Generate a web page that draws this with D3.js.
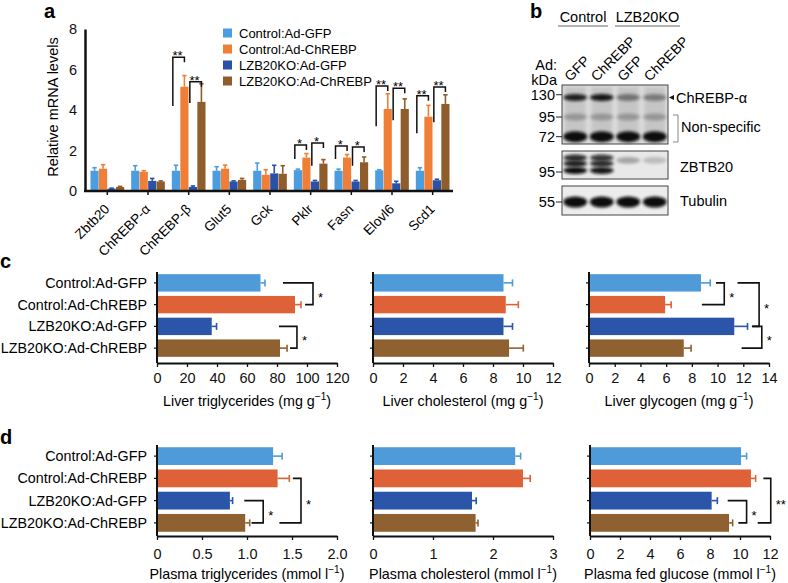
<!DOCTYPE html>
<html>
<head>
<meta charset="UTF-8">
<style>
  body { margin: 0; background: #fff; }
  svg { display: block; font-family: "Liberation Sans", Arial, Helvetica, sans-serif; }
</style>
</head>
<body>
<script src="https://d3js.org/d3.v7.min.js"></script>
<script>
// ---- data ----
const groups = ["Control:Ad-GFP", "Control:Ad-ChREBP", "LZB20KO:Ad-GFP", "LZB20KO:Ad-ChREBP"];
const colorsA = ["#4b9de0", "#ef7f36", "#2a51a6", "#8e5d2b"];
const colorsCD = ["#4f9ad8", "#df6137", "#2b55a8", "#8f6131"];

const genes = ["Zbtb20", "ChREBP-α", "ChREBP-β", "Glut5", "Gck", "Pklr", "Fasn", "Elovl6", "Scd1"];
const mrnaMean = [
  [1.0, 1.1, 0.12, 0.2],
  [1.0, 0.95, 0.5, 0.47],
  [1.0, 5.15, 0.2, 4.4],
  [1.0, 1.1, 0.47, 0.55],
  [1.0, 0.8, 0.87, 0.85],
  [1.03, 1.65, 0.47, 1.35],
  [1.0, 1.65, 0.47, 1.42],
  [1.02, 4.05, 0.38, 4.05],
  [1.0, 3.67, 0.53, 4.3]
];
const mrnaSem = [
  [0.15, 0.2, 0.02, 0.03],
  [0.25, 0.05, 0.12, 0.03],
  [0.27, 0.55, 0.05, 0.9],
  [0.2, 0.18, 0.03, 0.07],
  [0.38, 0.25, 0.4, 0.4],
  [0.05, 0.2, 0.05, 0.2],
  [0.08, 0.15, 0.05, 0.26],
  [0.03, 0.75, 0.1, 0.5],
  [0.15, 0.56, 0.05, 0.45]
];
// gene index, bar a, bar b, bracket top, left leg bottom, label
const mrnaSig = [
  [2, 0, 1, 6.6, 4.2, "**"], [2, 2, 3, 5.4, 4.35, "**"],
  [5, 0, 1, 2.27, 1.58, "*"], [5, 2, 3, 2.37, 1.25, "*"],
  [6, 0, 1, 2.22, 1.58, "*"], [6, 2, 3, 2.17, 1.25, "*"],
  [7, 0, 1, 5.19, 3.2, "**"], [7, 2, 3, 5.07, 3.5, "**"],
  [8, 0, 1, 4.7, 2.85, "**"], [8, 2, 3, 5.13, 3.4, "**"]
];

const liverTG = [69, 92, 36.5, 82], liverTGSem = [3, 4, 3.2, 4.7];
const liverChol = [8.7, 8.85, 8.7, 9.07], liverCholSem = [0.6, 0.84, 0.6, 0.95];
const liverGly = [8.71, 5.92, 11.3, 7.37], liverGlySem = [0.72, 0.47, 1.03, 0.57];
const plasmaTG = [1.29, 1.34, 0.81, 0.98], plasmaTGSem = [0.1, 0.13, 0.03, 0.05];
const plasmaChol = [2.37, 2.5, 1.65, 1.71], plasmaCholSem = [0.09, 0.12, 0.07, 0.04];
const plasmaGlu = [10.07, 10.73, 8.11, 9.27], plasmaGluSem = [0.37, 0.31, 0.38, 0.24];

// row a, row b, top arm start, bottom arm start, vertical at, label
const liverTGSig = [[0, 1, 84, 98.7, 104, "*"], [2, 3, 81.3, 88.7, 93.3, "*"]];
const liverGlySig = [[0, 1, 9.88, 8.78, 10.52, "*"], [0, 2, 11.55, 12.67, 13.23, "*"], [2, 3, 12.71, 11.87, 13.44, "*"]];
const plasmaTGSig = [[2, 3, 0.97, 1.05, 1.18, "*"], [1, 3, 1.51, 1.36, 1.6, "*"]];
const plasmaGluSig = [[2, 3, 9.18, 9.89, 10.44, "*"], [1, 3, 11.56, 11.18, 12.05, "**"]];

// western blot
const lanes = ["GFP", "ChREBP", "GFP", "ChREBP"];
const laneGroups = ["Control", "LZB20KO"];
const chrebpBands = [
  { kDa: 125, v: [0.9, 0.95, 0.45, 0.4] },
  { kDa: 95, v: [0.25, 0.25, 0.25, 0.25] },
  { kDa: 72, v: [1, 1, 1, 1] }
];
const zbtbBands = [
  { kDa: 116, v: [0.85, 0.8, 0, 0] },
  { kDa: 112, v: [0, 0, 0.3, 0.2] },
  { kDa: 107, v: [0.9, 0.85, 0, 0] },
  { kDa: 97, v: [1, 0.95, 0, 0] }
];
const tubulinBands = [{ kDa: 55, v: [1, 1, 1, 1] }];

// ---- drawing ----
const svg = d3.select("body").append("svg").attr("width", 788).attr("height", 583);
svg.append("rect").attr("width", 788).attr("height", 583).attr("fill", "#fff");

function panelLetter(t, x, y) {
  svg.append("text").attr("x", x).attr("y", y).attr("font-size", 20).attr("font-weight", "bold").text(t);
}
panelLetter("a", 44, 18);
panelLetter("b", 530, 18);
panelLetter("c", 0, 268);
panelLetter("d", 0, 444);

// ---------- panel a ----------
const ax = d3.scaleBand().domain(genes).range([87, 453]);
const ay = d3.scaleLinear().domain([0, 8]).range([191, 29]);
const ax1 = d3.scaleBand().domain(d3.range(4)).range([3.5, ax.bandwidth() - 3.5]).paddingInner(0.04);
const pa = svg.append("g");

genes.forEach((g, i) => {
  const gg = pa.append("g").attr("transform", `translate(${ax(g)},0)`);
  groups.forEach((s, j) => {
    const m = mrnaMean[i][j], e = mrnaSem[i][j];
    const cx = ax1(j) + ax1.bandwidth() / 2;
    gg.append("line").attr("x1", cx).attr("x2", cx).attr("y1", ay(m)).attr("y2", ay(m + e))
      .attr("stroke", colorsA[j]).attr("stroke-width", 1.6);
    gg.append("line").attr("x1", cx - 2.2).attr("x2", cx + 2.2).attr("y1", ay(m + e)).attr("y2", ay(m + e))
      .attr("stroke", colorsA[j]).attr("stroke-width", 1.6);
    gg.append("rect").attr("x", ax1(j)).attr("y", ay(m)).attr("width", ax1.bandwidth())
      .attr("height", ay(0) - ay(m)).attr("fill", colorsA[j]);
  });
});

mrnaSig.forEach(([gi, a, b, top, low, lab]) => {
  const base = ax(genes[gi]);
  const xl = base + ax1(a) + 1;
  const xr = base + ax1(b) + ax1.bandwidth() / 2;
  pa.append("path").attr("d", `M${xl},${ay(low)}V${ay(top)}H${xr}V${ay(top) + 5}`)
    .attr("fill", "none").attr("stroke", "#111").attr("stroke-width", 1.5);
  pa.append("text").attr("x", (xl + xr) / 2 - 1).attr("y", ay(top) + 3).attr("text-anchor", "middle")
    .attr("font-size", 13).text(lab);
});

// axes a
const yAxA = pa.append("g").attr("transform", "translate(85,0)")
  .call(d3.axisLeft(ay).tickValues([0, 2, 4, 6, 8]).tickSize(0).tickPadding(8));
yAxA.select(".domain").attr("stroke-width", 2.5).attr("stroke", "#111");
yAxA.selectAll("text").attr("font-size", 14.5).attr("font-family", null).attr("fill", "#111");

const xAxA = pa.append("g").attr("transform", "translate(0,191)")
  .call(d3.axisBottom(ax).tickSize(4).tickFormat(""));
xAxA.select(".domain").remove();
xAxA.selectAll("line").attr("stroke-width", 1.5).attr("stroke", "#111");
pa.append("line").attr("x1", 84).attr("x2", 453).attr("y1", 191).attr("y2", 191)
  .attr("stroke", "#111").attr("stroke-width", 2.5);

genes.forEach(g => {
  pa.append("text").attr("text-anchor", "end").attr("font-size", 13.5)
    .attr("transform", `translate(${ax(g) + ax.bandwidth() / 2 + 3},${210}) rotate(-45)`)
    .text(g);
});

pa.append("text").attr("transform", "translate(58,107) rotate(-90)").attr("text-anchor", "middle")
  .attr("font-size", 14.5).text("Relative mRNA levels");

const leg = pa.append("g");
groups.forEach((s, j) => {
  const cy = 33 + j * 16;
  leg.append("rect").attr("x", 223).attr("y", cy - 4.5).attr("width", 9).attr("height", 9).attr("fill", colorsA[j]);
  leg.append("text").attr("x", 239).attr("y", cy + 4.5).attr("font-size", 13).text(s);
});

// ---------- panel b (western blot) ----------
const pb = svg.append("g");
const defs = svg.append("defs");
defs.append("filter").attr("id", "blur").attr("x", "-50%").attr("y", "-100%").attr("width", "200%").attr("height", "300%")
  .append("feGaussianBlur").attr("stdDeviation", 1.4);

const lx = d3.scaleBand().domain(d3.range(lanes.length)).range([562, 668]);
const boxes = [
  { top: 85, bottom: 144, refKDa: 95, refY: 117, markers: [130, 95, 72], bands: chrebpBands, fill: "#d9d9d9" },
  { top: 151, bottom: 179, refKDa: 95, refY: 172, markers: [95], bands: zbtbBands, fill: "#e8e8e8" },
  { top: 186, bottom: 215, refKDa: 55, refY: 202, markers: [55], bands: tubulinBands, fill: "#ededed" }
];
boxes.forEach((bx, bi) => {
  const ky = d3.scaleLog().domain([bx.refKDa, bx.refKDa * Math.E]).range([bx.refY, bx.refY - 71]);
  pb.append("rect").attr("x", 562).attr("y", bx.top).attr("width", 106).attr("height", bx.bottom - bx.top)
    .attr("fill", bx.fill);
  if (bi === 0) {
    lanes.forEach((l, i) => {
      pb.append("rect").attr("x", lx(i) + 3).attr("y", bx.top + 2).attr("width", lx.bandwidth() - 6)
        .attr("height", bx.bottom - bx.top - 4).attr("fill", "#999").attr("opacity", 0.3)
        .attr("filter", "url(#blur)");
    });
  }
  bx.bands.forEach(b => {
    b.v.forEach((v, i) => {
      if (v <= 0) return;
      pb.append("ellipse").attr("cx", lx(i) + lx.bandwidth() / 2).attr("cy", ky(b.kDa))
        .attr("rx", lx.bandwidth() * 0.45).attr("ry", b.kDa === 72 || b.kDa === 55 ? 5.5 : 3.4)
        .attr("fill", "#0d0d0d").attr("opacity", v).attr("filter", "url(#blur)");
    });
  });
  pb.append("rect").attr("x", 562).attr("y", bx.top).attr("width", 106).attr("height", bx.bottom - bx.top)
    .attr("fill", "none").attr("stroke", "#444").attr("stroke-width", 1);
  bx.markers.forEach(m => {
    pb.append("line").attr("x1", 556).attr("x2", 562).attr("y1", ky(m)).attr("y2", ky(m))
      .attr("stroke", "#222").attr("stroke-width", 1);
    pb.append("text").attr("x", 555).attr("y", ky(m) + 5).attr("text-anchor", "end").attr("font-size", 14.5).text(m);
  });
});

pb.append("text").attr("x", 557).attr("y", 70).attr("text-anchor", "end").attr("font-size", 14.5).text("Ad:");
pb.append("text").attr("x", 557).attr("y", 85).attr("text-anchor", "end").attr("font-size", 14.5).text("kDa");
lanes.forEach((l, i) => {
  pb.append("text").attr("font-size", 14)
    .attr("transform", `translate(${lx(i) + lx.bandwidth() / 2 - 5},82) rotate(-45)`).text(l);
});
const groupLines = [[558, 608], [615, 680]];
laneGroups.forEach((g, k) => {
  const [x1, x2] = groupLines[k];
  pb.append("text").attr("x", (x1 + x2) / 2).attr("y", 22).attr("text-anchor", "middle")
    .attr("font-size", 14.5).text(g);
  pb.append("line").attr("x1", x1).attr("x2", x2).attr("y1", 26).attr("y2", 26)
    .attr("stroke", "#666").attr("stroke-width", 1);
});
pb.append("path").attr("d", "M669,97.5l5,-2.5v5z").attr("fill", "#111");
pb.append("text").attr("x", 676).attr("y", 103).attr("font-size", 14.5).text("ChREBP-α");
pb.append("path").attr("d", "M673,115H678V142H673").attr("fill", "none").attr("stroke", "#888").attr("stroke-width", 1);
pb.append("text").attr("x", 681).attr("y", 132).attr("font-size", 14.5).text("Non-specific");
pb.append("text").attr("x", 680).attr("y", 172).attr("font-size", 14.5).text("ZBTB20");
pb.append("text").attr("x", 680).attr("y", 206).attr("font-size", 14.5).text("Tubulin");

// ---------- panels c & d ----------
function hbarPanel(o) {
  const g = svg.append("g");
  const x = d3.scaleLinear().domain(o.domain).range([o.x0, o.x0 + 180]);
  const y = d3.scaleBand().domain(d3.range(groups.length)).range([o.top, o.bottom]).paddingInner(0.2).paddingOuter(0.1);
  const yc = i => y(i) + y.bandwidth() / 2;

  groups.forEach((s, j) => {
    const m = o.mean[j], e = o.sem[j];
    g.append("rect").attr("x", x(0)).attr("y", y(j)).attr("width", x(m) - x(0)).attr("height", y.bandwidth())
      .attr("fill", colorsCD[j]);
    g.append("line").attr("x1", x(m)).attr("x2", x(m + e)).attr("y1", yc(j)).attr("y2", yc(j))
      .attr("stroke", colorsCD[j]).attr("stroke-width", 1.6);
    g.append("line").attr("x1", x(m + e)).attr("x2", x(m + e)).attr("y1", yc(j) - 3.5).attr("y2", yc(j) + 3.5)
      .attr("stroke", colorsCD[j]).attr("stroke-width", 1.6);
  });

  (o.sig || []).forEach(([a, b, xa, xb, xv, lab]) => {
    g.append("path").attr("d", `M${x(xa)},${yc(a)}H${x(xv)}V${yc(b)}H${x(xb)}`)
      .attr("fill", "none").attr("stroke", "#111").attr("stroke-width", 1.6);
    g.append("text").attr("x", x(xv) + 5).attr("y", (yc(a) + yc(b)) / 2 + 8).attr("font-size", 13).text(lab);
  });

  // y axis
  g.append("line").attr("x1", o.x0).attr("x2", o.x0).attr("y1", o.top).attr("y2", o.axisY)
    .attr("stroke", "#111").attr("stroke-width", 2);
  groups.forEach((s, j) => {
    g.append("line").attr("x1", o.x0 - 3).attr("x2", o.x0).attr("y1", yc(j)).attr("y2", yc(j))
      .attr("stroke", "#111").attr("stroke-width", 1.2);
    if (o.names) {
      g.append("text").attr("x", o.x0 - 10).attr("y", yc(j) + 5).attr("text-anchor", "end")
        .attr("font-size", 14.3).text(s);
    }
  });

  // x axis
  const xa = g.append("g").attr("transform", `translate(0,${o.axisY})`)
    .call(d3.axisBottom(x).tickValues(o.ticks).tickSize(4).tickSizeOuter(0).tickPadding(o.pad).tickFormat(o.fmt));
  xa.select(".domain").attr("stroke", "#111").attr("stroke-width", 2);
  xa.selectAll(".tick line").attr("stroke", "#111").attr("stroke-width", 1.3);
  xa.selectAll("text").attr("font-size", 14.5).attr("font-family", null).attr("fill", "#111");

  const t = g.append("text").attr("x", o.x0 + 90).attr("y", o.labelY).attr("text-anchor", "middle").attr("font-size", 14.3);
  t.append("tspan").text(o.label[0]);
  t.append("tspan").attr("font-size", 10).attr("dy", -6).text(o.label[1]);
  t.append("tspan").attr("dy", 6).text(o.label[2]);
}

const fmtInt = d3.format("d");
const fmtTG = d => d === 0 ? "0" : d.toFixed(1);

hbarPanel({ x0: 157, top: 272, bottom: 359, axisY: 363, pad: 6, labelY: 406, names: true,
  domain: [0, 120], ticks: d3.range(0, 121, 20), fmt: fmtInt, mean: liverTG, sem: liverTGSem, sig: liverTGSig,
  label: ["Liver triglycerides (mg g", "−1", ")"] });
hbarPanel({ x0: 373, top: 272, bottom: 359, axisY: 363, pad: 6, labelY: 406,
  domain: [0, 12], ticks: d3.range(0, 13, 2), fmt: fmtInt, mean: liverChol, sem: liverCholSem,
  label: ["Liver cholesterol (mg g", "−1", ")"] });
hbarPanel({ x0: 589, top: 272, bottom: 359, axisY: 363, pad: 6, labelY: 406,
  domain: [0, 14], ticks: d3.range(0, 15, 2), fmt: fmtInt, mean: liverGly, sem: liverGlySem, sig: liverGlySig,
  label: ["Liver glycogen (mg g", "−1", ")"] });

hbarPanel({ x0: 157, top: 445, bottom: 534, axisY: 536, pad: 9, labelY: 579, names: true,
  domain: [0, 2], ticks: [0, 0.5, 1, 1.5, 2], fmt: fmtTG, mean: plasmaTG, sem: plasmaTGSem, sig: plasmaTGSig,
  label: ["Plasma triglycerides (mmol l", "−1", ")"] });
hbarPanel({ x0: 373, top: 445, bottom: 534, axisY: 536, pad: 9, labelY: 579,
  domain: [0, 3], ticks: [0, 1, 2, 3], fmt: fmtInt, mean: plasmaChol, sem: plasmaCholSem,
  label: ["Plasma cholesterol (mmol l", "−1", ")"] });
hbarPanel({ x0: 590, top: 445, bottom: 534, axisY: 536, pad: 9, labelY: 579,
  domain: [0, 12], ticks: d3.range(0, 13, 2), fmt: fmtInt, mean: plasmaGlu, sem: plasmaGluSem, sig: plasmaGluSig,
  label: ["Plasma fed glucose (mmol l", "−1", ")"] });
</script>
</body>
</html>
